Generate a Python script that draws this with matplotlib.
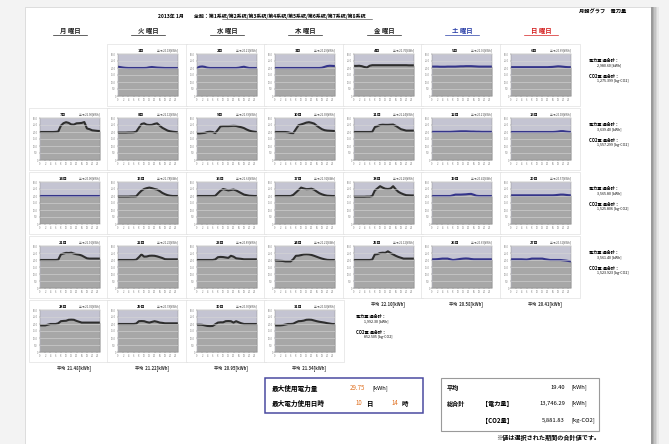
#%% monthly power usage calendar (2013-01)
import matplotlib
matplotlib.use('Agg')
import matplotlib.pyplot as plt
import numpy as np
from matplotlib.patches import Rectangle

plt.rcParams['font.family'] = ['Noto Sans CJK JP', 'DejaVu Sans']

W, H = 669, 444

weekdays = ['月', '火', '水', '木', '金', '土', '日']
weekday_colors = ['#222222', '#222222', '#222222', '#222222', '#222222', '#2a3fa8', '#d42020']
hours = list(range(24))

# hourly kWh per day, one list per calendar week (None = no day in that slot)
week1 = [None,
    [20.9, 20.6, 20.3, 20.1, 20.0, 20.0, 20.0, 20.0, 20.0, 20.0, 20.0, 20.1, 20.5, 20.7, 20.5, 20.3, 20.2, 20.1, 20.0, 20.0, 20.0, 20.0, 20.0, 20.0],
    [20.0, 20.9, 21.1, 20.8, 20.2, 20.0, 20.0, 20.0, 20.0, 20.0, 20.0, 20.0, 20.0, 20.0, 20.0, 20.0, 20.2, 20.6, 20.9, 20.4, 20.0, 20.0, 20.0, 20.0],
    [20.0, 20.0, 20.0, 20.0, 20.0, 20.0, 20.0, 20.0, 20.0, 20.0, 20.0, 20.0, 20.0, 20.0, 20.0, 20.0, 20.0, 20.0, 20.2, 20.8, 21.4, 21.6, 21.5, 21.4],
    [21.5, 21.5, 21.6, 21.3, 20.7, 20.4, 21.6, 22.0, 22.0, 22.0, 22.0, 22.0, 22.0, 22.0, 22.0, 22.0, 22.0, 22.0, 22.0, 22.0, 22.0, 21.9, 21.9, 21.9],
    [21.0, 21.0, 21.0, 20.9, 20.9, 20.9, 21.0, 21.0, 21.0, 21.0, 21.1, 21.2, 21.2, 21.3, 21.3, 21.3, 21.2, 21.1, 21.0, 21.0, 21.0, 21.0, 21.0, 21.0],
    [20.6, 20.6, 20.6, 20.6, 20.6, 20.6, 20.6, 20.6, 20.6, 20.6, 20.6, 20.6, 20.6, 20.6, 20.6, 20.7, 20.8, 21.0, 21.2, 21.1, 20.9, 20.7, 20.6, 20.6]]
week2 = [
    [20.0, 20.0, 20.0, 20.0, 20.0, 20.0, 20.1, 20.3, 24.5, 26.3, 27.0, 26.5, 25.4, 25.3, 26.2, 26.3, 26.5, 27.1, 22.5, 22.0, 21.2, 21.0, 20.8, 20.7],
    [19.6, 19.6, 19.6, 19.6, 19.7, 19.7, 19.8, 20.2, 23.0, 25.7, 26.2, 25.2, 25.0, 25.1, 25.8, 26.2, 24.5, 23.0, 22.0, 21.0, 20.5, 20.2, 20.0, 19.8],
    [19.0, 19.0, 19.2, 19.4, 20.0, 20.2, 20.0, 19.2, 21.5, 24.0, 24.2, 24.2, 24.2, 24.3, 24.4, 24.3, 23.8, 23.4, 22.8, 21.8, 21.0, 20.5, 20.2, 20.0],
    [20.0, 20.0, 20.0, 20.0, 20.0, 19.8, 19.3, 19.2, 22.0, 24.8, 25.4, 26.0, 26.7, 27.0, 26.6, 26.0, 24.5, 23.2, 22.0, 21.3, 21.0, 20.9, 20.8, 20.7],
    [20.0, 20.0, 20.0, 20.0, 20.0, 20.0, 20.0, 20.1, 23.5, 24.2, 25.0, 25.2, 25.1, 25.1, 25.2, 25.3, 24.4, 23.2, 22.0, 21.5, 21.0, 21.0, 21.0, 21.0],
    [20.1, 20.1, 20.1, 20.1, 20.1, 20.1, 20.1, 20.1, 20.2, 20.3, 20.4, 20.5, 20.5, 20.5, 20.4, 20.3, 20.3, 20.2, 20.2, 20.1, 20.1, 20.1, 20.1, 20.1],
    [20.0, 20.0, 20.0, 20.0, 20.0, 20.0, 20.0, 20.0, 20.0, 20.0, 20.0, 20.0, 20.0, 20.0, 20.0, 20.0, 20.0, 20.1, 20.3, 20.6, 20.6, 20.3, 20.1, 20.0]]
week3 = [
    [20.0, 20.0, 20.0, 20.0, 20.0, 20.0, 20.0, 20.0, 20.0, 20.0, 20.0, 20.0, 20.0, 20.0, 20.0, 20.0, 20.0, 20.0, 20.0, 20.0, 20.0, 20.0, 20.0, 20.0],
    [19.6, 19.6, 19.6, 19.6, 19.6, 19.7, 19.7, 19.8, 22.0, 23.8, 25.0, 25.6, 26.0, 25.6, 25.0, 24.6, 23.5, 22.2, 21.3, 20.6, 20.2, 20.0, 20.0, 20.0],
    [20.0, 20.0, 20.0, 20.0, 20.0, 20.0, 20.0, 20.1, 22.0, 23.8, 25.0, 24.5, 24.0, 24.3, 24.6, 24.0, 23.0, 22.0, 21.0, 20.6, 20.2, 20.1, 20.0, 20.0],
    [20.0, 20.0, 20.0, 20.0, 20.0, 20.0, 20.0, 20.8, 22.5, 24.2, 26.0, 25.4, 24.9, 25.0, 25.2, 24.5, 23.2, 22.0, 21.2, 20.6, 20.2, 20.1, 20.0, 20.0],
    [19.5, 19.5, 19.5, 19.5, 19.5, 19.6, 19.6, 20.0, 24.0, 25.5, 27.0, 26.0, 25.2, 25.0, 25.3, 27.0, 24.8, 23.0, 22.0, 21.2, 20.6, 20.5, 20.4, 20.4],
    [20.0, 20.0, 20.0, 20.0, 20.0, 20.0, 20.0, 20.0, 20.5, 21.0, 21.0, 21.0, 21.1, 21.2, 21.4, 21.5, 20.9, 20.2, 20.0, 20.0, 20.0, 20.0, 20.0, 20.0],
    [20.5, 20.5, 20.5, 20.5, 20.5, 20.5, 20.5, 20.5, 20.5, 20.5, 20.5, 20.5, 20.5, 20.5, 20.5, 20.5, 20.5, 20.6, 20.8, 21.0, 21.0, 20.8, 20.6, 20.5]]
week4 = [
    [20.0, 20.0, 20.0, 20.0, 20.0, 20.0, 20.0, 20.2, 24.0, 24.6, 25.1, 25.0, 25.2, 24.6, 24.1, 23.8, 23.2, 22.2, 21.2, 21.0, 21.0, 21.0, 21.0, 21.0],
    [20.0, 20.0, 20.0, 20.0, 20.0, 20.0, 20.0, 20.2, 22.0, 24.0, 22.4, 22.5, 23.0, 23.1, 23.0, 22.6, 22.0, 21.4, 20.6, 20.5, 20.5, 20.5, 20.5, 20.5],
    [20.0, 20.0, 20.0, 20.0, 20.0, 20.0, 20.0, 20.4, 22.0, 22.2, 22.1, 21.8, 21.5, 23.0, 22.4, 21.2, 21.0, 20.8, 20.5, 20.5, 20.5, 20.5, 20.5, 20.5],
    [19.6, 19.5, 19.4, 19.3, 19.0, 19.0, 19.0, 20.5, 23.0, 23.1, 23.5, 24.0, 24.1, 24.0, 23.6, 23.0, 22.3, 21.6, 21.0, 20.5, 20.1, 20.0, 20.0, 20.0],
    [20.0, 20.0, 20.0, 20.0, 20.0, 20.0, 20.0, 20.3, 24.0, 24.2, 25.0, 25.2, 25.1, 26.2, 25.0, 24.0, 23.0, 22.2, 21.6, 21.0, 21.0, 21.0, 21.0, 21.0],
    [20.5, 20.5, 20.6, 20.8, 21.0, 21.0, 21.0, 20.5, 20.0, 20.2, 20.5, 20.8, 21.0, 21.1, 21.0, 20.7, 20.5, 20.5, 20.5, 20.5, 20.5, 20.5, 20.5, 20.5],
    [20.5, 20.5, 20.5, 20.5, 20.5, 20.4, 20.3, 20.6, 21.0, 21.0, 21.0, 21.0, 21.0, 20.6, 20.3, 20.0, 20.0, 20.0, 20.0, 20.0, 19.8, 19.6, 19.3, 19.0]]
week5 = [
    [19.0, 19.0, 19.0, 19.5, 20.0, 20.0, 20.0, 20.5, 22.0, 22.2, 22.3, 23.0, 23.1, 23.0, 22.2, 21.6, 21.0, 21.0, 21.0, 21.0, 21.0, 21.0, 21.0, 21.0],
    [20.0, 20.0, 20.0, 20.0, 20.0, 20.0, 20.0, 20.3, 22.0, 22.1, 22.0, 21.4, 21.0, 21.5, 22.0, 21.6, 21.0, 20.8, 20.5, 20.5, 20.5, 20.5, 20.5, 20.5],
    [19.5, 19.5, 19.4, 19.0, 18.6, 18.5, 18.6, 19.8, 21.0, 21.2, 21.2, 22.0, 22.1, 22.0, 21.0, 22.0, 21.2, 20.5, 20.0, 20.0, 20.0, 20.0, 20.0, 20.0],
    [19.0, 19.0, 19.0, 19.2, 19.6, 20.0, 20.0, 20.2, 21.2, 22.0, 22.1, 22.4, 23.0, 23.1, 23.0, 22.5, 22.0, 21.6, 21.3, 21.0, 20.6, 20.3, 20.0, 20.0],
    None, None, None]
weeks = [week1, week2, week3, week4, week5]

# days drawn with the blue line (weekends and holidays)
holidays = [1, 2, 3, 5, 6, 12, 13, 14, 19, 20, 26, 27]

co2_factor = 0.4279
max_kwh = 29.75
max_day, max_hour = 10, 14
month_avg = 19.40
total_kwh = '13,746.29'
total_co2 = '5,881.83'

# pixel layout
col_left = [40, 118, 197, 275, 354, 432, 511]
plot_w = 60
row_top = [54, 118, 182, 246, 310]
plot_h = 42


def rect(x0, y0, w, h):
    return [x0 / W, 1 - (y0 + h) / H, w / W, h / H]


fig = plt.figure(figsize=(W / 100, H / 100), dpi=100)
fig.patch.set_facecolor('#f3f3f3')
bg = fig.add_axes([0, 0, 1, 1])
bg.set_xlim(0, W)
bg.set_ylim(H, 0)
bg.axis('off')

# page + shadow
bg.add_patch(Rectangle((25, 7), 626, 440, facecolor='white', edgecolor='#d8d8d8', lw=0.6))
for i, c in enumerate(['#9a9a9a', '#b0b0b0', '#c4c4c4', '#d6d6d6', '#e6e6e6']):
    bg.add_patch(Rectangle((651 + i * 1.6, 7), 1.6, 440, facecolor=c, edgecolor='none'))

bg.text(262, 16, '2013年 1月　　全館：第1系統/第2系統/第3系統/第4系統/第5系統/第6系統/第7系統/第8系統',
        fontsize=3.6, ha='center', va='center', fontweight='bold')
bg.plot([222, 372], [19, 19], color='#333333', lw=0.4)
bg.text(626, 12, '月報グラフ　電力量', fontsize=3.8, ha='right', va='center', fontweight='bold')

for j, name in enumerate(weekdays):
    cx = col_left[j] + plot_w / 2
    bg.text(cx, 31, name + ' 曜日', fontsize=4.6, ha='center', va='center',
            color=weekday_colors[j], fontweight='bold')
    bg.plot([cx - 17, cx + 17], [35.5, 35.5], color=weekday_colors[j], lw=0.5)

for r, week in enumerate(weeks):
    for j, vals in enumerate(week):
        if vals is None:
            continue
        day = 7 * r + j  # Jan 1 2013 is a Tuesday
        x0, y0 = col_left[j], row_top[r]
        bg.add_patch(Rectangle((x0 - 11, y0 - 10), plot_w + 20, plot_h + 20,
                               facecolor='white', edgecolor='#dadada', lw=0.4))
        ax = fig.add_axes(rect(x0, y0, plot_w, plot_h))
        ax.set_facecolor('#c4c4d2')
        ax.fill_between(hours, 0, vals, color='#a7a7a7', lw=0)
        lc = '#34348a' if day in holidays else '#2e2e2e'
        ax.plot(hours, vals, color=lc, lw=1.5)
        ax.set_xlim(0, 23)
        ax.set_ylim(0, 30)
        ax.set_yticks([0, 5, 10, 15, 20, 25, 30])
        ax.set_yticklabels(['0', '5.0', '10.0', '15.0', '20.0', '25.0', '30.0'])
        ax.set_xticks(hours[::2])
        ax.set_xticklabels([str(h) for h in hours[::2]])
        ax.tick_params(labelsize=1.8, colors='#777777', length=0.8, width=0.3, pad=0.8)
        ax.grid(axis='y', color='#d6d6d6', lw=0.4)
        ax.set_axisbelow(False)
        for s in ax.spines.values():
            s.set_linewidth(0.3)
            s.set_color('#888888')
        ax.text(0.38, 1.03, '%d日' % day, transform=ax.transAxes, fontsize=2.8,
                ha='center', va='bottom', fontweight='bold')
        ax.text(1.0, 1.03, '平均 %.2f[kWh]' % np.mean(vals), transform=ax.transAxes,
                fontsize=2.0, ha='right', va='bottom', color='#444444')

# weekly totals
for r, week in enumerate(weeks):
    tot = sum(sum(v) for v in week if v is not None)
    if r < 4:
        tx, ty = 589, row_top[r]
    else:
        tx, ty = 356, row_top[r]
    bg.text(tx, ty + 6, '電力量 週合計：', fontsize=3.0, fontweight='bold', va='center')
    bg.text(tx + 8, ty + 11, '%s [kWh]' % format(tot, ',.2f'), fontsize=2.6, va='center')
    bg.text(tx, ty + 22, 'CO2量 週合計：', fontsize=3.0, fontweight='bold', va='center')
    bg.text(tx + 8, ty + 27, '%s [kg-CO2]' % format(tot * co2_factor, ',.3f'), fontsize=2.6, va='center')

# average per weekday column
for j in range(7):
    col = [weeks[r][j] for r in range(5) if weeks[r][j] is not None]
    last_r = max(r for r in range(5) if weeks[r][j] is not None)
    cx = col_left[j] + plot_w / 2 + 4
    cy = row_top[last_r] + plot_h + 16
    bg.text(cx, cy, '平均  %.2f[kWh]' % np.mean(col), fontsize=3.0, ha='center', va='center',
            fontweight='bold', color='#333333')

# summary boxes
bg.add_patch(Rectangle((265, 378), 158, 35, facecolor='white', edgecolor='#4a4aa0', lw=1.1))
bg.text(272, 388, '最大使用電力量', fontsize=4.8, fontweight='bold', va='center')
bg.text(365, 388, '%.2f' % max_kwh, fontsize=4.4, color='#e07020', ha='right', va='center')
bg.text(372, 388, '[kWh]', fontsize=4.2, va='center')
bg.text(272, 403, '最大電力使用日時', fontsize=4.8, fontweight='bold', va='center')
bg.text(362, 403, '%d' % max_day, fontsize=4.4, color='#e07020', ha='right', va='center')
bg.text(366, 403, '日', fontsize=4.6, fontweight='bold', va='center')
bg.text(398, 403, '%d' % max_hour, fontsize=4.4, color='#e07020', ha='right', va='center')
bg.text(402, 403, '時', fontsize=4.6, fontweight='bold', va='center')

bg.add_patch(Rectangle((441, 378), 158, 53, facecolor='white', edgecolor='#9a9a9a', lw=0.8))
bg.text(447, 387, '平均', fontsize=4.4, fontweight='bold', va='center')
bg.text(565, 387, '%.2f' % month_avg, fontsize=4.2, ha='right', va='center')
bg.text(571, 387, '[kWh]', fontsize=4.2, va='center')
bg.text(447, 403, '総合計', fontsize=4.4, fontweight='bold', va='center')
bg.text(482, 403, '【電力量】', fontsize=4.4, fontweight='bold', va='center')
bg.text(565, 403, total_kwh, fontsize=4.2, ha='right', va='center')
bg.text(571, 403, '[kWh]', fontsize=4.2, va='center')
bg.text(482, 420, '【CO2量】', fontsize=4.4, fontweight='bold', va='center')
bg.text(565, 420, total_co2, fontsize=4.2, ha='right', va='center')
bg.text(571, 420, '[kg-CO2]', fontsize=4.2, va='center')
bg.text(600, 437, '※値は選択された期間の合計値です。', fontsize=4.4, fontweight='bold',
        ha='right', va='center')

fig.savefig('out.png', dpi=100, facecolor=fig.get_facecolor())
